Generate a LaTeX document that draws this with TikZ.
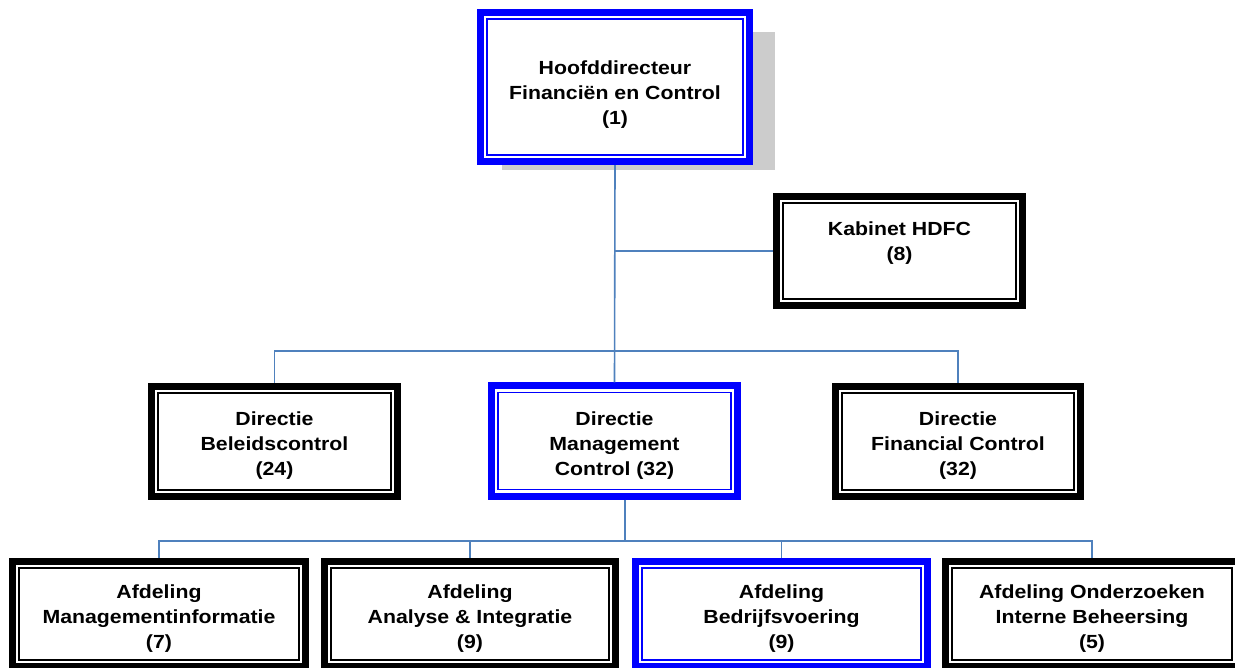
\documentclass[tikz,border=0pt]{standalone}
\usepackage{fontspec}
\setmainfont[FakeStretch=1.12]{Liberation Sans}

\definecolor{linkblue}{RGB}{79,129,189}
\definecolor{framebl}{RGB}{0,0,255}
\definecolor{shadowgray}{RGB}{204,204,204}

% thick-thin frame drawn inside a node's border
\newcommand\orgframe[3]{%
  \draw[#2, line width=7pt] ([shift={(3.5,3.5)}]#1.north west) rectangle ([shift={(-3.5,-3.5)}]#1.south east);
  \draw[#2, line width=#3] ([shift={(10,10)}]#1.north west) rectangle ([shift={(-10,-10)}]#1.south east);
}
% invisible strut that lowers a text block inside its box
\newcommand\toppad[1]{\rule{0pt}{#1}}

\tikzset{
  orgbox/.style={fill=white, align=center, inner sep=0pt,
    font=\bfseries\fontsize{19}{25}\selectfont},
  link/.style={draw=linkblue, line width=1.6pt}
}

\begin{document}
\begin{tikzpicture}[x=1pt,y=-1pt]
\useasboundingbox (0,0) rectangle (1235,668);

% drop shadow of the top box
\fill[shadowgray] (502,32) rectangle (775,170);

% boxes
\node[orgbox, minimum width=276, minimum height=156] (top) at (615,87)
  {\toppad{28pt}Hoofddirecteur\\Financiën en Control\\(1)};
\node[orgbox, minimum width=253, minimum height=116] (kab) at (899.5,251)
  {\toppad{20pt}Kabinet HDFC\\(8)\\\mbox{}};
\node[orgbox, minimum width=253, minimum height=117] (bel) at (274.5,441.5)
  {\toppad{22pt}Directie\\Beleidscontrol\\(24)};
\node[orgbox, minimum width=253, minimum height=117] (mc) at (614.5,441)
  {\toppad{22pt}Directie\\Management\\Control (32)};
\node[orgbox, minimum width=252, minimum height=117] (fc) at (958,441.5)
  {\toppad{22pt}Directie\\Financial Control\\(32)};
\node[orgbox, minimum width=300, minimum height=112] (a1) at (159,614)
  {\toppad{22pt}Afdeling\\Managementinformatie\\(7)};
\node[orgbox, minimum width=298, minimum height=112] (a2) at (470,614)
  {\toppad{22pt}Afdeling\\Analyse \& Integratie\\(9)};
\node[orgbox, minimum width=299, minimum height=112] (a3) at (781.5,614)
  {\toppad{22pt}Afdeling\\Bedrijfsvoering\\(9)};
\node[orgbox, minimum width=300, minimum height=112] (a4) at (1092,614)
  {\toppad{22pt}Afdeling Onderzoeken\\Interne Beheersing\\(5)};

\orgframe{top}{framebl}{1.5pt}
\orgframe{kab}{black}{2pt}
\orgframe{bel}{black}{2pt}
\orgframe{mc}{framebl}{1.5pt}
\orgframe{fc}{black}{2pt}
\orgframe{a1}{black}{2pt}
\orgframe{a2}{black}{2pt}
\orgframe{a3}{framebl}{1.5pt}
\orgframe{a4}{black}{2pt}

% connectors
\coordinate (bus2) at (615,351);
\coordinate (bus3) at (625,541);
\draw[link] (top.south) -- (mc.north);
\draw[link] (kab.west) -- (kab.west -| top.south);
\draw[link] (bel.north) |- (bus2) -| (fc.north);
\draw[link] (mc.south -| bus3) -- (bus3);
\draw[link] (a1.north) |- (bus3) -| (a4.north);
\draw[link] (a2.north) -- (a2.north |- bus3);
\draw[link] (a3.north) -- (a3.north |- bus3);
\end{tikzpicture}
\end{document}
